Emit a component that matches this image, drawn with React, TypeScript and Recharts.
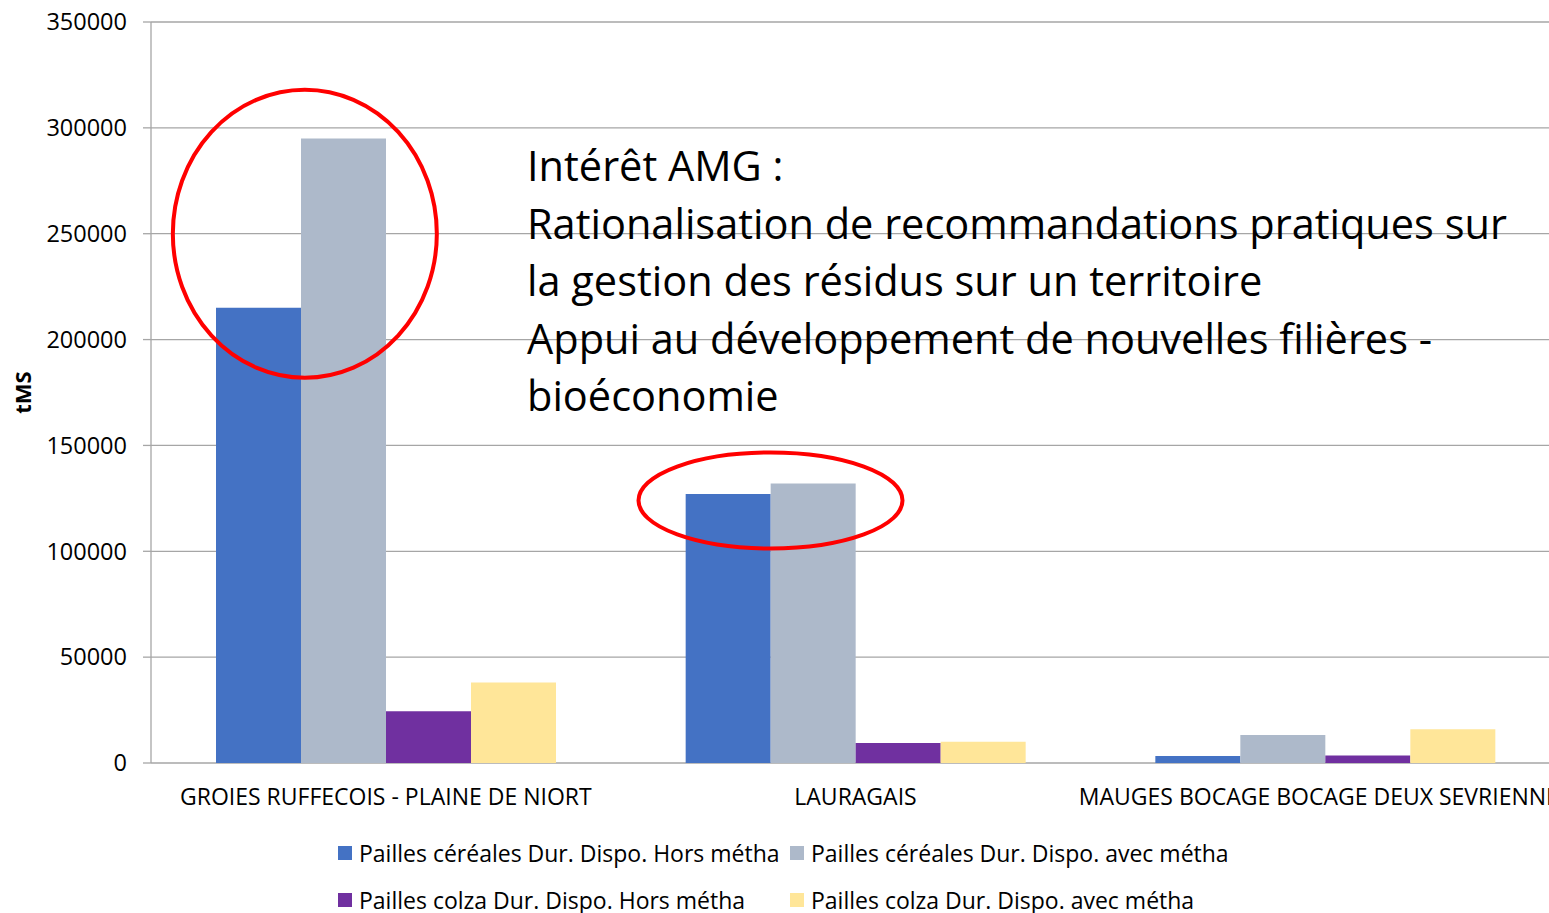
import { BarChart, Bar, XAxis, YAxis, CartesianGrid, Legend, ReferenceDot } from 'recharts'

const territoires = ['GROIES RUFFECOIS - PLAINE DE NIORT', 'LAURAGAIS', 'MAUGES BOCAGE BOCAGE DEUX SEVRIENNES']
const cerealesHors = [215000, 127000, 3300]
const cerealesAvec = [295000, 132000, 13200]
const colzaHors = [24500, 9500, 3600]
const colzaAvec = [38000, 10000, 16000]
const yTicks = [0, 50000, 100000, 150000, 200000, 250000, 300000, 350000]

const series = [
  { key: 'cerealesHors', name: 'Pailles céréales Dur. Dispo. Hors métha', color: '#4472C4' },
  { key: 'cerealesAvec', name: 'Pailles céréales Dur. Dispo. avec métha', color: '#ADB9CA' },
  { key: 'colzaHors', name: 'Pailles colza Dur. Dispo. Hors métha', color: '#7030A0' },
  { key: 'colzaAvec', name: 'Pailles colza Dur. Dispo. avec métha', color: '#FFE699' }
]

const data = territoires.map((t, i) => ({
  territoire: t,
  idx: i,
  cerealesHors: cerealesHors[i],
  cerealesAvec: cerealesAvec[i],
  colzaHors: colzaHors[i],
  colzaAvec: colzaAvec[i]
}))

const FONT = "'Open Sans', sans-serif"
const GRID = '#A6A6A6'

function LegendGrid() {
  return (
    <div
      style={{
        display: 'grid',
        gridTemplateColumns: '452px 452px',
        rowGap: 20,
        marginLeft: 338,
        marginTop: 16,
        fontFamily: FONT,
        fontSize: 23,
        color: '#000'
      }}
    >
      {series.map((s) => (
        <div key={s.key} style={{ display: 'flex', alignItems: 'center', height: 27, whiteSpace: 'nowrap' }}>
          <span style={{ width: 14, height: 14, background: s.color, marginRight: 7, flex: 'none' }} />
          <span>{s.name}</span>
        </div>
      ))}
    </div>
  )
}

// red highlight ellipse, shifted left from the category centre
const circle = (dx: number, rx: number, ry: number) => (props: any) => (
  <ellipse cx={props.cx + dx} cy={props.cy} rx={rx} ry={ry} fill="none" stroke="#FF0000" strokeWidth={4} />
)

export default function App() {
  return (
    <div style={{ position: 'fixed', left: 0, top: 0, width: 1549, height: 913, overflow: 'hidden', background: '#fff' }}>
      <BarChart
        width={1560}
        height={913}
        data={data}
        margin={{ top: 22, right: 0, bottom: 0, left: 0 }}
        barGap={0}
        barSize={85}
      >
        <CartesianGrid vertical={false} stroke={GRID} strokeWidth={1.3} />
        <XAxis
          xAxisId="bounds"
          type="number"
          dataKey="idx"
          domain={[0, 3]}
          ticks={[0, 1, 2, 3]}
          height={0}
          tick={() => <g />}
          tickSize={9}
          tickLine={{ stroke: GRID, strokeWidth: 1.3 }}
          axisLine={{ stroke: GRID, strokeWidth: 1.3 }}
        />
        <XAxis
          dataKey="territoire"
          height={60}
          interval={0}
          tickLine={false}
          axisLine={false}
          tick={{ fill: '#000', fontSize: 23, fontFamily: FONT }}
          tickMargin={20}
        />
        <YAxis
          width={151}
          domain={[0, 350000]}
          ticks={yTicks}
          interval={0}
          tickSize={8}
          tickMargin={16}
          tickLine={{ stroke: GRID, strokeWidth: 1.3 }}
          axisLine={{ stroke: GRID, strokeWidth: 1.3 }}
          tick={{ fill: '#000', fontSize: 23.5, fontFamily: FONT }}
          label={{
            content: ({ viewBox }: any) => (
              <text
                x={22}
                y={viewBox.y + viewBox.height / 2}
                transform={`rotate(-90 22 ${viewBox.y + viewBox.height / 2})`}
                textAnchor="middle"
                dominantBaseline="central"
                fontFamily={FONT}
                fontSize={22}
                fontWeight="bold"
                fill="#000"
              >
                tMS
              </text>
            )
          }}
        />
        {series.map((s) => (
          <Bar key={s.key} dataKey={s.key} name={s.name} fill={s.color} isAnimationActive={false} />
        ))}
        <ReferenceDot x={territoires[0]} y={250000} r={1} shape={circle(-81, 132, 144)} />
        <ReferenceDot x={territoires[1]} y={124000} r={1} shape={circle(-85, 132, 48)} />
        <Legend verticalAlign="bottom" height={90} wrapperStyle={{ left: 0, width: 1549 }} content={() => <LegendGrid />} />
      </BarChart>
      <div
        style={{
          position: 'absolute',
          left: 527,
          top: 137,
          fontFamily: FONT,
          fontSize: 41.5,
          lineHeight: '57.5px',
          color: '#000',
          whiteSpace: 'nowrap',
          pointerEvents: 'none'
        }}
      >
        <div>Intérêt AMG :</div>
        <div>Rationalisation de recommandations pratiques sur</div>
        <div>la gestion des résidus sur un territoire</div>
        <div>Appui au développement de nouvelles filières -</div>
        <div>bioéconomie</div>
      </div>
    </div>
  )
}
